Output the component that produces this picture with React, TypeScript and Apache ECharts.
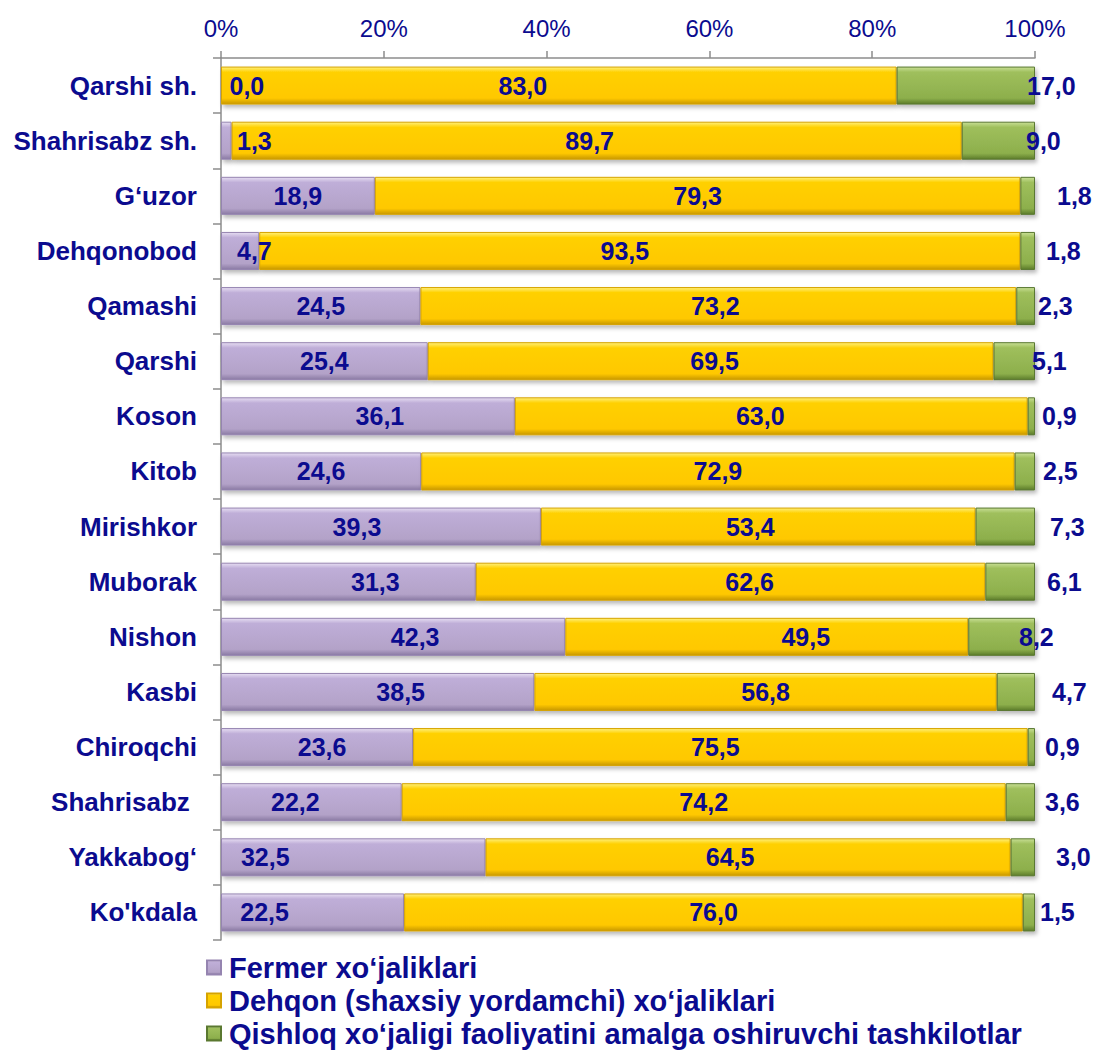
import React, { useEffect, useRef } from "react";
import * as echarts from "echarts";

const categories = [
  "Qarshi sh.", "Shahrisabz sh.", "G‘uzor", "Dehqonobod", "Qamashi", "Qarshi", "Koson", "Kitob",
  "Mirishkor", "Muborak", "Nishon", "Kasbi", "Chiroqchi", "Shahrisabz ", "Yakkabog‘", "Ko'kdala",
];
const seriesNames = [
  "Fermer xo‘jaliklari",
  "Dehqon (shaxsiy yordamchi) xo‘jaliklari",
  "Qishloq xo‘jaligi faoliyatini amalga oshiruvchi tashkilotlar",
];
const fermer = [0.0, 1.3, 18.9, 4.7, 24.5, 25.4, 36.1, 24.6, 39.3, 31.3, 42.3, 38.5, 23.6, 22.2, 32.5, 22.5];
const dehqon = [83.0, 89.7, 79.3, 93.5, 73.2, 69.5, 63.0, 72.9, 53.4, 62.6, 49.5, 56.8, 75.5, 74.2, 64.5, 76.0];
const tashkilot = [17.0, 9.0, 1.8, 1.8, 2.3, 5.1, 0.9, 2.5, 7.3, 6.1, 8.2, 4.7, 0.9, 3.6, 3.0, 1.5];
const xTicks = [0, 20, 40, 60, 80, 100];

// label nudges (layout only, px)
const fermerNudge = [0, 0, 0, 0, 0, 0, 12, 0, -24, 27, 22, 23, 5, -16, -88, -48];
const dehqonNudge = [-36, -7, 0, -15, -3, 4, -11, 0, -8, 19, 39, 0, -5, 0, -18, 0];
const greenNudge = [-8, -9, 22, 11, 3, -3, 7, 8, 15, 12, -16, 17, 10, 10, 21, 5];

const NAVY = "#0b0b8f";
const FONT = "'Liberation Sans', Arial, sans-serif";

const fmt = (v: number) => v.toFixed(1).replace(".", ",");

const grad = (top: string, main1: string, main2: string, bottom: string) =>
  new echarts.graphic.LinearGradient(0, 0, 0, 1, [
    { offset: 0, color: top },
    { offset: 0.14, color: main1 },
    { offset: 0.84, color: main2 },
    { offset: 1, color: bottom },
  ]);

export default function App() {
  const ref = useRef<HTMLDivElement>(null);
  useEffect(() => {
    if (!ref.current) return;
    const chart = echarts.init(ref.current, null, { renderer: "svg" });
    const labelBase = {
      show: true,
      color: NAVY,
      fontSize: 25,
      fontWeight: "bold" as const,
      fontFamily: FONT,
      formatter: (p: any) => fmt(Number(p.value)),
    };
    const shadow = {
      shadowColor: "rgba(0,0,0,0.28)",
      shadowBlur: 4,
      shadowOffsetX: 2,
      shadowOffsetY: 3,
    };
    chart.setOption({
      animation: false,
      backgroundColor: "#ffffff",
      grid: { left: 221, right: 60, top: 58, height: 882, containLabel: false },
      legend: {
        data: seriesNames,
        orient: "vertical",
        left: 206,
        top: 951,
        padding: 0,
        itemGap: 0,
        itemWidth: 14,
        itemHeight: 14,
        icon: "rect",
        textStyle: {
          color: NAVY,
          fontSize: 29,
          fontWeight: "bold",
          fontFamily: FONT,
          lineHeight: 33,
          padding: [0, 0, 0, 3],
        },
      },
      xAxis: {
        type: "value",
        position: "top",
        min: xTicks[0],
        max: xTicks[xTicks.length - 1],
        interval: 20,
        axisLabel: {
          formatter: "{value}%",
          color: NAVY,
          fontSize: 24,
          fontFamily: FONT,
          margin: 18,
        },
        axisLine: { show: true, lineStyle: { color: "#8c8c8c", width: 1.5 } },
        axisTick: { show: true, length: 7, lineStyle: { color: "#8c8c8c", width: 1.5 } },
        splitLine: { show: false },
      },
      yAxis: {
        type: "category",
        inverse: true,
        data: categories,
        axisLabel: {
          color: NAVY,
          fontSize: 26,
          fontWeight: "bold",
          fontFamily: FONT,
          margin: 24,
        },
        axisLine: { show: true, lineStyle: { color: "#8c8c8c", width: 1.5 } },
        axisTick: { show: true, length: 8, lineStyle: { color: "#8c8c8c", width: 1.5 } },
      },
      series: [
        {
          name: seriesNames[0],
          type: "bar",
          stack: "total",
          barWidth: 38,
          itemStyle: {
            color: grad("#e6ddf2", "#bfaed8", "#b3a2c8", "#8a7aa3"),
            borderColor: "#9584b0",
            borderWidth: 1,
            ...shadow,
          },
          label: { ...labelBase, position: "inside" },
          data: fermer.map((v, i) => {
            if (v < 5) {
              return {
                value: v,
                label: {
                  position: [v === 0 ? 9 : 16, "50%"],
                  align: "left",
                  verticalAlign: "middle",
                },
              };
            }
            return { value: v, label: { offset: [fermerNudge[i], 0] } };
          }),
        },
        {
          name: seriesNames[1],
          type: "bar",
          stack: "total",
          barWidth: 38,
          itemStyle: {
            color: grad("#fff07a", "#ffd000", "#ffc800", "#c89800"),
            borderColor: "#d6a300",
            borderWidth: 1,
            ...shadow,
          },
          label: { ...labelBase, position: "inside" },
          data: dehqon.map((v, i) => ({ value: v, label: { offset: [dehqonNudge[i], 0] } })),
        },
        {
          name: seriesNames[2],
          type: "bar",
          stack: "total",
          barWidth: 38,
          itemStyle: {
            color: grad("#c8df95", "#9fbf5c", "#8daf4c", "#5c7c2a"),
            borderColor: "#5a7830",
            borderWidth: 1,
            ...shadow,
          },
          label: { ...labelBase, position: "right", distance: 0, align: "left" },
          data: tashkilot.map((v, i) => ({ value: v, label: { offset: [greenNudge[i], 0] } })),
        },
      ],
    });
    return () => chart.dispose();
  }, []);
  return (
    <div
      ref={ref}
      style={{ position: "fixed", left: 0, top: 0, width: 1095, height: 1050, background: "#fff" }}
    />
  );
}
